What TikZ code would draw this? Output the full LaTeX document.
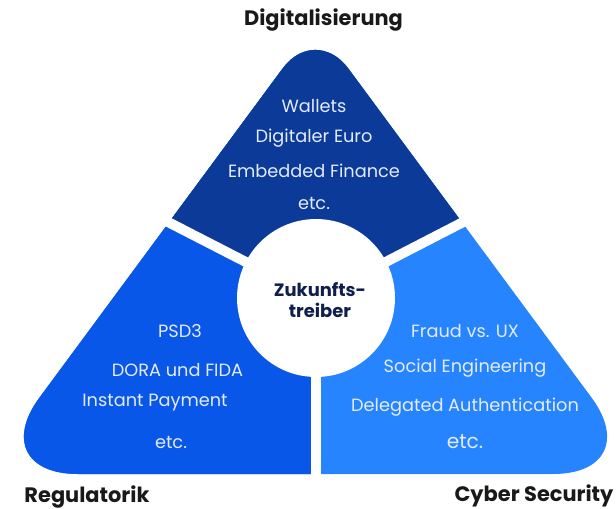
\documentclass[tikz,border=0pt]{standalone}
\usepackage{fontspec}
\setmainfont{Poppins}
\usetikzlibrary{positioning, calc}
\definecolor{digiblue}{HTML}{0B3A99}
\definecolor{regblue}{HTML}{0857E8}
\definecolor{cyberblue}{HTML}{2684FF}
\definecolor{navy}{HTML}{0F1F4D}
\definecolor{itemtext}{HTML}{E4EBFA}
\tikzset{
  corner/.style = {font=\bfseries\fontsize{11.9}{13}\selectfont, text=black!90},
  item/.style   = {font=\fontsize{10.1}{12}\selectfont, text=itemtext},
  core/.style   = {font=\bfseries\fontsize{10.2}{12}\selectfont, text=navy, align=center},
  gap/.style    = {draw=white, line width=0.2cm},
}
\begin{document}
\begin{tikzpicture}[x=0.02cm, y=-0.02cm]
\useasboundingbox (0,0) rectangle (616,508);

% Centre of the disc and the far ends of the three cuts
\coordinate (ctr) at (316,298);
\coordinate (gl) at (-128,70);
\coordinate (gr) at (750,74);
\coordinate (gb) at (316,530);

% Rounded triangle, filled in three colours
\begin{scope}
  \clip (315.5,474) [rounded corners=1.9cm] -- (-17,474) [rounded corners=1.1cm] -- (315.5,24)
        [rounded corners=1.9cm] -- (648,474) -- cycle;
  \fill[cyberblue] (-20,-20) rectangle (650,530);
  \fill[regblue] (-20,-20) rectangle (316,530);
  \fill[digiblue] (ctr) -- (gl) -- (-128,-50) -- (760,-50) -- (gr) -- cycle;
\end{scope}

% White cuts and the disc in the middle
\draw[gap] (ctr) -- (gl);
\draw[gap] (ctr) -- (gr);
\draw[gap] (ctr) -- (gb);
\fill[white] (ctr) circle (1.58cm);
\node (core) [core] at (320,300) {Zukunfts-\\treiber};

% Corner titles
\node (dig) [corner] at (323.5,19.5) {Digitalisierung};
\node (reg) [corner] at (87,497) {Regulatorik};
\node (cyb) [corner] at (534,496) {Cyber Security};

% Top part
\node (w1) [item] at (314,106) {Wallets};
\node (w2) [item] at (314,138) {Digitaler Euro};
\node (w3) [item] at (314,171) {Embedded Finance};
\node (w4) [item] at (314,203) {etc.};

% Left part
\node (r1) [item] at (180,331) {PSD3};
\node (r2) [item] at (177.5,370) {DORA und FIDA};
\node (r3) [item] at (155,403) {Instant Payment};
\node (r4) [item] at (171,442) {etc.};

% Right part
\node (c1) [item] at (465,331) {Fraud vs. UX};
\node (c2) [item] at (465,368) {Social Engineering};
\node (c3) [item] at (465,407) {Delegated Authentication};
\node (c4) [item, font=\fontsize{11.5}{13}\selectfont] at (465,442) {etc.};

\end{tikzpicture}
\end{document}
